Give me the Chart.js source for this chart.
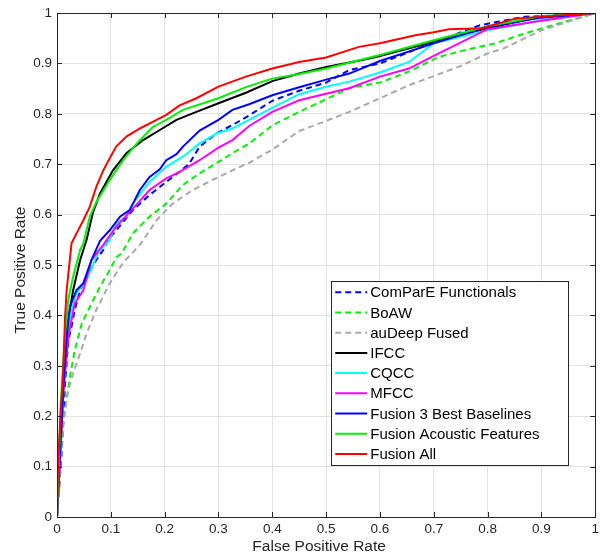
<!DOCTYPE html>
<html><head><meta charset="utf-8">
<script src="https://cdn.jsdelivr.net/npm/chart.js@4.4.1/dist/chart.umd.min.js"></script>
<style>html,body{margin:0;padding:0;background:#fff;}#wrap{width:603px;height:556px;}</style>
</head><body><div id="wrap"><canvas id="c" width="603" height="556"></canvas></div>
<script>
// ---- data ----
const seriesNames = ["ComParE Functionals","BoAW","auDeep Fused","IFCC","CQCC","MFCC","Fusion 3 Best Baselines","Fusion Acoustic Features","Fusion All"];
const axisTicks = [0,0.1,0.2,0.3,0.4,0.5,0.6,0.7,0.8,0.9,1];
const xTitle = 'False Positive Rate';
const yTitle = 'True Positive Rate';

const fprCompare = [0,0.009,0.015,0.021,0.027,0.033,0.043,0.055,0.073,0.086,0.095,0.11,0.141,0.172,0.203,0.231,0.245,0.265,0.296,0.326,0.357,0.4,0.45,0.5,0.543,0.6,0.7,0.786,0.87,0.9,1];
const tprCompare = [0,0.133,0.266,0.351,0.378,0.411,0.45,0.477,0.51,0.53,0.55,0.569,0.609,0.639,0.665,0.688,0.7,0.735,0.761,0.778,0.797,0.826,0.846,0.862,0.887,0.9,0.942,0.976,0.993,0.994,1];

const fprBoAW = [0,0.005,0.01,0.015,0.024,0.033,0.046,0.061,0.08,0.098,0.11,0.12,0.141,0.172,0.203,0.234,0.265,0.296,0.326,0.357,0.4,0.45,0.5,0.543,0.6,0.654,0.709,0.759,0.814,0.87,0.944,1];
const tprBoAW = [0,0.1,0.17,0.212,0.278,0.331,0.384,0.417,0.457,0.49,0.515,0.523,0.563,0.596,0.622,0.659,0.682,0.702,0.722,0.741,0.777,0.804,0.829,0.851,0.862,0.884,0.913,0.927,0.94,0.96,0.983,1];

const fprAuDeep = [0,0.003,0.008,0.013,0.021,0.03,0.043,0.055,0.073,0.098,0.123,0.154,0.185,0.215,0.252,0.289,0.326,0.357,0.4,0.45,0.5,0.543,0.6,0.654,0.7,0.75,0.8,0.83,0.9,1];
const tprAuDeep = [0,0.05,0.13,0.2,0.252,0.285,0.325,0.364,0.411,0.464,0.505,0.54,0.589,0.622,0.649,0.669,0.688,0.703,0.729,0.766,0.786,0.804,0.831,0.857,0.875,0.895,0.92,0.93,0.966,1];

const fprIFCC = [0,0.004,0.01,0.018,0.03,0.043,0.055,0.067,0.08,0.104,0.129,0.16,0.191,0.222,0.259,0.3,0.351,0.4,0.45,0.5,0.567,0.6,0.7,0.8,0.9,1];
const tprIFCC = [0,0.1,0.25,0.375,0.45,0.51,0.55,0.605,0.642,0.688,0.722,0.748,0.768,0.788,0.804,0.821,0.842,0.865,0.88,0.893,0.907,0.915,0.943,0.97,0.993,1];

const fprCQCC = [0,0.006,0.012,0.018,0.024,0.036,0.055,0.073,0.08,0.098,0.11,0.129,0.141,0.172,0.203,0.234,0.265,0.296,0.326,0.357,0.4,0.45,0.5,0.543,0.6,0.654,0.7,0.8,0.9,1];
const tprCQCC = [0,0.12,0.25,0.34,0.397,0.444,0.47,0.516,0.53,0.55,0.583,0.596,0.622,0.665,0.695,0.715,0.741,0.761,0.771,0.788,0.812,0.839,0.854,0.864,0.882,0.903,0.94,0.966,0.986,1];

const fprMFCC = [0,0.006,0.012,0.021,0.033,0.049,0.064,0.08,0.086,0.11,0.141,0.172,0.203,0.228,0.265,0.3,0.326,0.357,0.4,0.45,0.5,0.543,0.6,0.654,0.7,0.8,0.9,1];
const tprMFCC = [0,0.12,0.25,0.358,0.424,0.45,0.51,0.532,0.54,0.576,0.612,0.649,0.672,0.685,0.708,0.733,0.748,0.776,0.804,0.827,0.84,0.851,0.874,0.89,0.915,0.968,0.985,1];

const fprFusion3 = [0,0.006,0.012,0.018,0.024,0.036,0.049,0.064,0.08,0.098,0.117,0.135,0.154,0.172,0.191,0.203,0.222,0.234,0.265,0.3,0.326,0.357,0.4,0.45,0.5,0.543,0.6,0.7,0.8,0.9,1];
const tprFusion3 = [0,0.133,0.265,0.358,0.417,0.45,0.464,0.51,0.548,0.569,0.596,0.609,0.649,0.675,0.69,0.708,0.72,0.735,0.767,0.788,0.808,0.819,0.837,0.853,0.868,0.88,0.905,0.94,0.973,0.991,1];

const fprFusionAcoustic = [0,0.003,0.007,0.015,0.021,0.03,0.043,0.049,0.061,0.073,0.08,0.098,0.123,0.148,0.178,0.203,0.234,0.3,0.351,0.4,0.45,0.5,0.6,0.7,0.8,0.9,1];
const tprFusionAcoustic = [0,0.1,0.224,0.364,0.431,0.477,0.53,0.543,0.596,0.625,0.637,0.669,0.708,0.741,0.774,0.788,0.808,0.831,0.853,0.87,0.879,0.89,0.917,0.946,0.974,0.994,1];

const fprFusionAll = [0,0.002,0.007,0.011,0.015,0.018,0.027,0.033,0.049,0.061,0.073,0.086,0.098,0.11,0.129,0.154,0.178,0.203,0.228,0.259,0.3,0.351,0.4,0.45,0.5,0.561,0.6,0.666,0.7,0.728,0.789,0.851,0.9,1];
const tprFusionAll = [0,0.107,0.212,0.278,0.397,0.45,0.543,0.556,0.589,0.616,0.655,0.688,0.712,0.735,0.755,0.771,0.784,0.798,0.817,0.831,0.854,0.874,0.89,0.903,0.912,0.933,0.94,0.956,0.962,0.968,0.97,0.989,0.993,1];

// ---- styles ----
const seriesX = [fprCompare,fprBoAW,fprAuDeep,fprIFCC,fprCQCC,fprMFCC,fprFusion3,fprFusionAcoustic,fprFusionAll];
const seriesY = [tprCompare,tprBoAW,tprAuDeep,tprIFCC,tprCQCC,tprMFCC,tprFusion3,tprFusionAcoustic,tprFusionAll];
const colors = ['#0000ff','#00f000','#a9a9a9','#000000','#00ffff','#ff00ff','#0000ff','#00f000','#ff0000'];
const dashed = [true,true,true,false,false,false,false,false,false];

const datasets = seriesNames.map((name,i)=>({
  label:name,
  data: seriesX[i].map((x,k)=>({x:x,y:seriesY[i][k]})),
  borderColor:colors[i],
  backgroundColor:colors[i],
  borderWidth:2,
  borderDash: dashed[i] ? [6,4] : [],
  pointRadius:0,
  tension:0,
  fill:false,
  order: seriesNames.length - 1 - i
}));

const TXT = '#262626';
const FONT = '"Liberation Sans", Arial, sans-serif';
const fmt = v => String(Math.round(v*10)/10);

const framePlugin = {
  id:'frame',
  afterDatasetsDraw(chart){
    const {ctx, chartArea:a, scales} = chart;
    const xs = scales.x, ys = scales.y;
    ctx.save();
    ctx.strokeStyle = TXT; ctx.lineWidth = 1;
    ctx.beginPath();
    axisTicks.forEach(v=>{
      const px = Math.round(xs.getPixelForValue(v))+0.5;
      ctx.moveTo(px,a.bottom); ctx.lineTo(px,a.bottom-5);
      ctx.moveTo(px,a.top); ctx.lineTo(px,a.top+5);
      const py = Math.round(ys.getPixelForValue(v))+0.5;
      ctx.moveTo(a.left,py); ctx.lineTo(a.left+5,py);
      ctx.moveTo(a.right,py); ctx.lineTo(a.right-5,py);
    });
    ctx.stroke();
    ctx.strokeRect(Math.round(a.left)+0.5, Math.round(a.top)+0.5, Math.round(a.right-a.left), Math.round(a.bottom-a.top));
    ctx.restore();
  },
  afterDraw(chart){
    const {ctx, chartArea:a} = chart;
    const o = chart.options.plugins.frame;
    ctx.save();
    ctx.fillStyle = TXT;
    ctx.font = o.titleFont;
    ctx.textAlign = 'center';
    ctx.textBaseline = 'middle';
    const cx = (a.left+a.right)/2 + o.xTitleDx;
    ctx.fillText(xTitle, cx, a.bottom + o.xTitleDy);
    ctx.translate(o.yTitleX, (a.top+a.bottom)/2 + o.yTitleDy);
    ctx.rotate(-Math.PI/2);
    ctx.fillText(yTitle, 0, 0);
    ctx.restore();
  }
};

const legendPlugin = {
  id:'boxLegend',
  afterDraw(chart){
    const {ctx, chartArea:a} = chart;
    const o = chart.options.plugins.boxLegend;
    const right = a.right - o.rightGap, bottom = a.bottom - o.bottomGap;
    const n = chart.data.datasets.length;
    const h = n*o.rowH + 2;
    const left = right - o.width, top = bottom - h;
    ctx.save();
    ctx.fillStyle='#fff';
    ctx.fillRect(left,top,o.width,h);
    ctx.strokeStyle=TXT; ctx.lineWidth=1;
    ctx.strokeRect(Math.round(left)+0.5,Math.round(top)+0.5,Math.round(o.width),Math.round(h));
    ctx.font = o.font;
    ctx.textBaseline='middle';
    ctx.textAlign='left';
    chart.data.datasets.forEach((d,i)=>{
      const cy = top + 1 + o.rowH*(i+0.5);
      ctx.strokeStyle=d.borderColor; ctx.lineWidth=2;
      ctx.setLineDash(d.borderDash||[]);
      ctx.beginPath(); ctx.moveTo(left+4,cy); ctx.lineTo(left+36,cy); ctx.stroke();
      ctx.setLineDash([]);
      ctx.fillStyle='#000';
      ctx.fillText(d.label,left+39,cy+1);
    });
    ctx.restore();
  }
};

new Chart(document.getElementById('c'),{
  type:'line',
  data:{datasets},
  plugins:[framePlugin,legendPlugin],
  options:{
    responsive:false, animation:false, devicePixelRatio:1,
    layout:{padding:{left:0,top:12,right:5,bottom:0}},
    plugins:{
      legend:{display:false}, tooltip:{enabled:false},
      frame:{titleFont:'15.5px '+FONT, xTitleDx:-7, xTitleDy:30, yTitleX:21, yTitleDy:5},
      boxLegend:{rightGap:27,bottomGap:52,width:237,rowH:20.2,font:'15px '+FONT}
    },
    scales:{
      x:{type:'linear',min:0,max:1,
        afterFit(s){s.height=39;},
        afterBuildTicks(s){s.ticks=axisTicks.map(v=>({value:v}));},
        ticks:{callback:fmt,color:TXT,font:{family:FONT,size:13.5},padding:4,maxRotation:0,autoSkip:false},
        grid:{color:'#e3e3e3',drawTicks:false},
        border:{display:false},
        title:{display:false}
      },
      y:{type:'linear',min:0,max:1,
        afterFit(s){s.width=57;},
        afterBuildTicks(s){s.ticks=axisTicks.map(v=>({value:v}));},
        ticks:{callback:fmt,color:TXT,font:{family:FONT,size:13.5},padding:5,autoSkip:false},
        grid:{color:'#e3e3e3',drawTicks:false},
        border:{display:false},
        title:{display:false}
      }
    }
  }
});
</script></body></html>
